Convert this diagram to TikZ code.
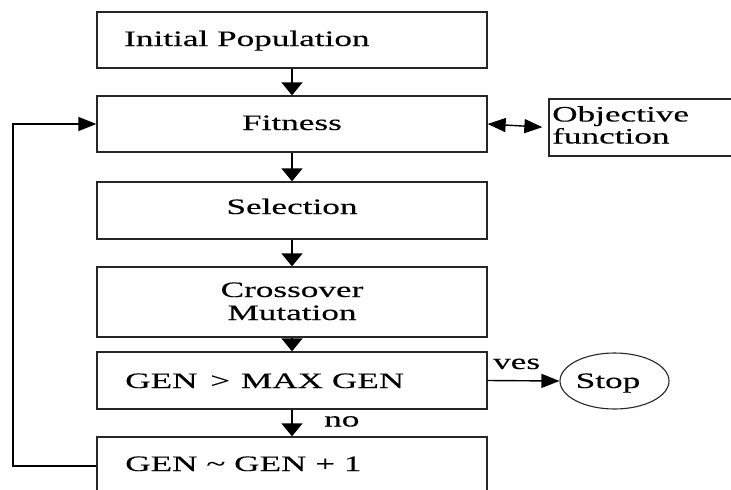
\documentclass[tikz,border=0pt]{standalone}
\usepackage{fontspec}
\setmainfont[FakeStretch=1.6,FakeBold=0.2]{Liberation Serif}
\usetikzlibrary{arrows.meta,shapes.geometric}
\tikzset{
  box/.style={draw=black!85, line width=1.3pt, minimum width=390pt, inner sep=0pt},
  txt/.style={inner sep=0pt, font=\fontsize{22}{22}\selectfont},
  varrow/.style={line width=1.4pt, -{Triangle[length=13pt,width=21pt]}},
  harrow/.style={line width=1.4pt, -{Triangle[length=18pt,width=14pt]}},
  darrow/.style={line width=1.4pt, {Triangle[length=18pt,width=14pt]}-{Triangle[length=18pt,width=14pt]}},
  stopshape/.style={draw=black!85, line width=1.1pt, ellipse, minimum width=109pt, minimum height=56pt, inner sep=0pt}
}
\begin{document}
\begin{tikzpicture}[x=1pt,y=-1pt]
\useasboundingbox (0,0) rectangle (731,490);
\clip (0,0) rectangle (731,490);
% boxes
\node[box, minimum height=56pt] (init) at (292,40) {};
\node[box, minimum height=56pt] (fit) at (292,124) {};
\node[box, minimum height=57pt] (sel) at (292,210.5) {};
\node[box, minimum height=70pt] (cross) at (292,302) {};
\node[box, minimum height=57pt] (cond) at (292,380.5) {};
\node[box, minimum height=58pt] (inc) at (292,466) {};
\node[draw=black!85, line width=1.3pt, minimum width=190pt, minimum height=57pt, inner sep=0pt] (obj) at (644,127.5) {};
\node[stopshape] (stop) at (614.5,381) {};
% texts
\node[txt, anchor=base west] (tinit) at (124,46) {Initial Population};
\node[txt, anchor=base] (tfit) at (292,130) {Fitness};
\node[txt, anchor=base] (tsel) at (292,214) {Selection};
\node[txt, anchor=base] (tcross) at (292,297) {Crossover};
\node[txt, anchor=base] (tmut) at (292,320) {Mutation};
\node[txt, anchor=base west] (tcond) at (125,388) {GEN\hspace{4pt} > \hspace{2pt}MAX GEN};
\node[txt, anchor=base west] (tinc) at (125,471) {GEN \textasciitilde\ GEN + 1};
\node[txt, anchor=base west] (tobj1) at (552,121.5) {Objective};
\node[txt, anchor=base west] (tobj2) at (552,143.5) {function};
\node[txt, anchor=base] (tstop) at (608,388) {Stop};
\node[txt, anchor=base west] (tyes) at (493,369) {ves};
\node[txt, anchor=base west] (tno) at (324,426.5) {no};
% connectors
\draw[varrow] (init) -- (fit);
\draw[varrow] (fit) -- (sel);
\draw[varrow] (sel) -- (cross);
\draw[varrow] (cross) -- (cond);
\draw[varrow] (cond) -- (inc);
\draw[darrow, shorten >=6pt] (fit.east) -- (obj.west);
\draw[harrow] (cond.east) -- (stop.west);
\coordinate (loop) at (13,466);
\draw[harrow] (inc.west) -- (loop) |- (fit.west);
\end{tikzpicture}
\end{document}
